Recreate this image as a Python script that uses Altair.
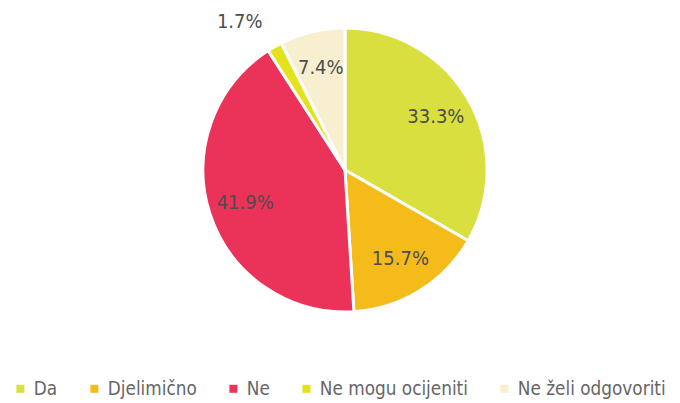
import altair as alt
import pandas as pd

categories = ["Da", "Djelimično", "Ne", "Ne mogu ocijeniti", "Ne želi odgovoriti"]
values = [33.3, 15.7, 41.9, 1.7, 7.4]
colors = ["#d8df3e", "#f5bb1a", "#eb3258", "#e3e21b", "#f7efcf"]

df = pd.DataFrame({"cat": categories, "val": values, "order": list(range(len(categories)))})
df["label"] = df["val"].map(lambda v: f"{v:.1f}%")

FONT = "DejaVu Sans Condensed, DejaVu Sans, sans-serif"
CX, CY, R = 337, 162, 142

base = alt.Chart(df).encode(
    theta=alt.Theta("val:Q", stack=True),
    order=alt.Order("order:Q"),
)

arcs = base.mark_arc(outerRadius=R, stroke="white", strokeWidth=3).encode(
    x=alt.value(CX), y=alt.value(CY),
    color=alt.Color(
        "cat:N",
        scale=alt.Scale(domain=categories, range=colors),
        sort=categories,
        legend=alt.Legend(
            title=None, orient="none", direction="horizontal",
            legendX=3, legendY=371, padding=0, gridAlign="each",
            symbolType="square", symbolSize=64, symbolStrokeWidth=0,
            labelFont=FONT, labelFontSize=18.8, labelColor="#666666",
            columnPadding=27, labelOffset=4, labelLimit=300,
        ),
    ),
)

labels = base.mark_text(
    radius=105, font=FONT, fontSize=20, color="#4d4d4d"
).encode(
    x=alt.value(CX), y=alt.value(CY),
    text=alt.condition(alt.datum.val > 5, "label:N", alt.value("")),
)

small = base.mark_text(
    radius=170, font=FONT, fontSize=20, color="#4d4d4d", dx=-21
).encode(
    x=alt.value(CX), y=alt.value(CY),
    text=alt.condition(alt.datum.val <= 5, "label:N", alt.value("")),
)

chart = (arcs + labels + small).properties(
    width=664, height=395,
    padding={"left": 0, "top": 0, "right": 0, "bottom": 0},
    autosize=alt.AutoSizeParams(type="none"),
).configure_view(stroke=None)

chart.save("out.html", embed_options={"renderer": "svg", "actions": False})
